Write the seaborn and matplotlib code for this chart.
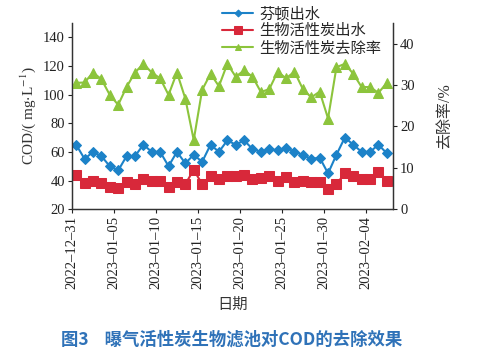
import pandas as pd
import matplotlib.pyplot as plt
import matplotlib.dates as mdates
import seaborn as sns

# datos (COD en mg/L, tasa en %)
fechas = pd.date_range('2022-12-31 12:00', periods=38, freq='D')
fenton = [65, 55, 60, 57, 50, 47, 57, 57, 65, 60, 60, 50, 60, 52, 58, 53, 65, 60, 68,
          65, 68, 62, 60, 62, 61, 63, 60, 58, 55, 56, 45, 58, 70, 65, 60, 60, 65, 59]
bac = [44, 38, 40, 38.5, 35.5, 34.5, 39, 37.5, 41, 39.5, 40, 35.5, 39, 37.5, 47.5, 37.5,
       43, 41, 43, 43, 44, 41, 42, 43, 40, 42.5, 39, 40, 39, 39, 34, 37.5, 45, 43, 41, 41, 46, 40]
tasa = [30.5, 30.6, 33, 31.4, 27.6, 25.2, 29.5, 33, 35.1, 33, 31.6, 27.6, 33, 26.7, 16.7,
        28.8, 32.7, 29.7, 35.1, 32, 33.5, 32, 28.3, 29, 33.2, 31.6, 33.2, 29, 27, 28.4,
        21.9, 34.3, 35.1, 32.7, 29.5, 29.5, 28.1, 30.5]
ticks_fecha = ['2022-12-31', '2023-01-05', '2023-01-10', '2023-01-15', '2023-01-20',
               '2023-01-25', '2023-01-30', '2023-02-04']

df = pd.DataFrame({'fecha': fechas, 'fenton': fenton, 'bac': bac, 'tasa': tasa})

sns.set_style('ticks')
plt.rcParams['font.family'] = ['Liberation Serif', 'Noto Sans CJK SC', 'DejaVu Sans']
plt.rcParams['mathtext.fontset'] = 'stix'
plt.rcParams['axes.unicode_minus'] = False

azul = '#1c82c8'
rojo = '#d8283a'
verde = '#8cc43c'

fig = plt.figure(figsize=(4.8, 3.57), dpi=100)
ax = fig.add_axes([0.15, 0.414, 0.669, 0.522])
ax2 = ax.twinx()

sns.lineplot(data=df, x='fecha', y='fenton', ax=ax, color=azul, marker='D', markersize=5,
             markeredgecolor=azul, linewidth=1.5, label='芬顿出水', legend=False)
sns.lineplot(data=df, x='fecha', y='bac', ax=ax, color=rojo, marker='s', markersize=7.5,
             markeredgecolor=rojo, linewidth=1.5, label='生物活性炭出水', legend=False)
sns.lineplot(data=df, x='fecha', y='tasa', ax=ax2, color=verde, marker='^', markersize=6.5,
             markeredgecolor=verde, linewidth=1.5, label='生物活性炭去除率', legend=False)

ax.set_ylim(20, 150)
ax.set_yticks([20, 40, 60, 80, 100, 120, 140])
ax2.set_ylim(0, 45)
ax2.set_yticks([0, 10, 20, 30, 40])
ax.set_xlim(pd.Timestamp('2022-12-31'), pd.Timestamp('2023-02-07 06:00'))
ax.set_xticks(pd.to_datetime(ticks_fecha))
ax.xaxis.set_major_formatter(mdates.DateFormatter('%Y–%m–%d'))
for lab in ax.get_xticklabels():
    lab.set_rotation(90)

for a in (ax, ax2):
    a.spines['top'].set_visible(False)
    a.tick_params(labelsize=10.5, length=3, width=0.8, colors='#222222', pad=2)
    for s in a.spines.values():
        s.set_color('#333333')
        s.set_linewidth(0.9)

ax.set_xlabel('日期', fontsize=11, color='#333333', labelpad=6)
ax.set_ylabel('COD/( mg$\\cdot$L$^{-1}$)', fontsize=11, color='#333333', labelpad=4)
ax2.set_ylabel('去除率/%', fontsize=11.5, color='#333333', labelpad=16)

h1, l1 = ax.get_legend_handles_labels()
h2, l2 = ax2.get_legend_handles_labels()
ax.legend(h1 + h2, l1 + l2, loc='upper left', bbox_to_anchor=(0.44, 1.135), frameon=False,
          fontsize=11, handlelength=2.0, handletextpad=0.4, labelspacing=0.18,
          borderpad=0.1, markerscale=0.7)

fig.text(0.483, 0.048, '图3    曝气活性炭生物滤池对COD的去除效果', ha='center', va='center',
         fontsize=12.5, fontweight='semibold', color='#2f72b8', family=['Noto Sans CJK SC'])

fig.savefig('out.png', dpi=100)
